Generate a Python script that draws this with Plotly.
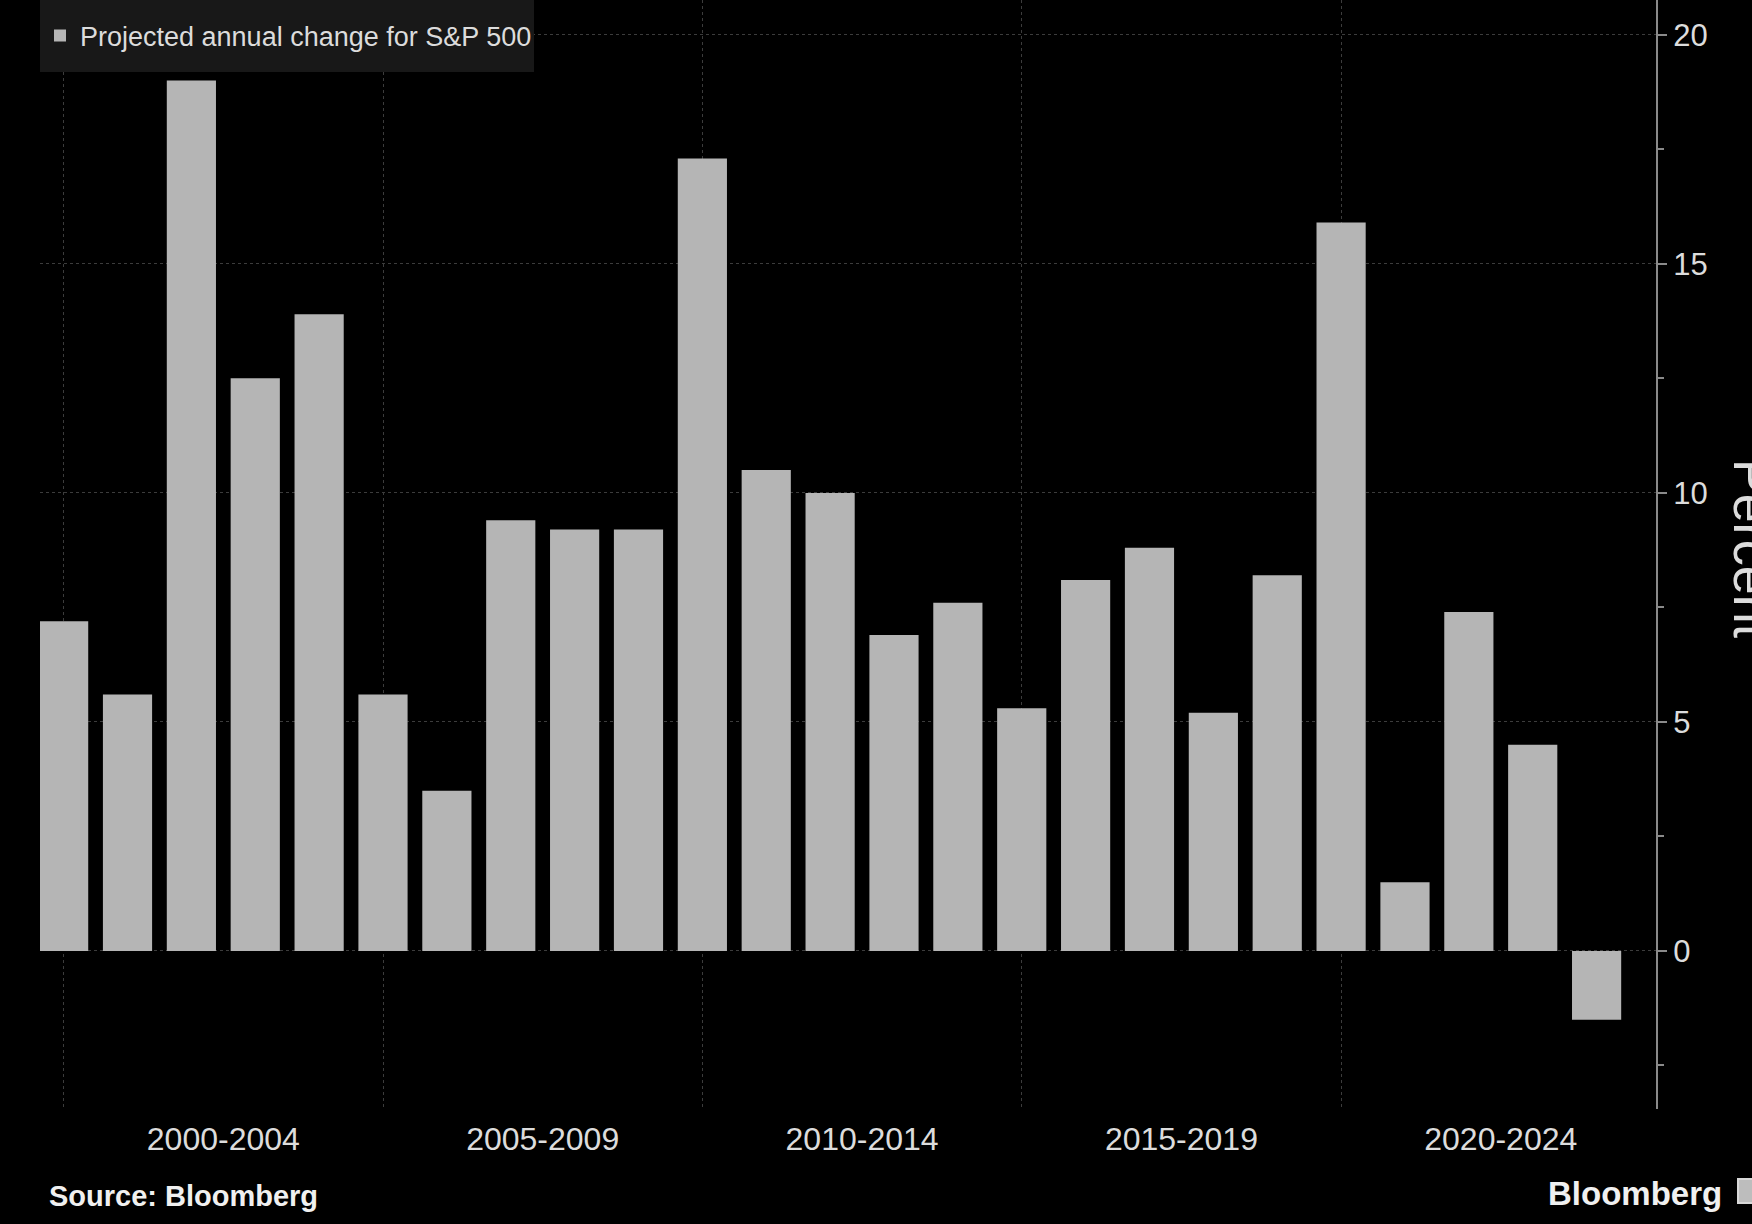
import plotly.graph_objects as go

years = list(range(2000, 2025))
values = [7.2, 5.6, 19.0, 12.5, 13.9, 5.6, 3.5, 9.4, 9.2, 9.2, 17.3, 10.5, 10.0,
          6.9, 7.6, 5.3, 8.1, 8.8, 5.2, 8.2, 15.9, 1.5, 7.4, 4.5, -1.5]
group_pos = [2002.5, 2007.5, 2012.5, 2017.5, 2022.5]
group_labels = ["2000-2004", "2005-2009", "2010-2014", "2015-2019", "2020-2024"]
group_starts = [2000, 2005, 2010, 2015, 2020]
y_ticks = [0, 5, 10, 15, 20]

FONT = "Liberation Sans, Arial, sans-serif"
TXT = "#dcdcdc"
GRID = "#3c3c3c"
AXC = "#8a8a8a"

fig = go.Figure()
fig.add_trace(go.Bar(
    x=years, y=values, name="Projected annual change for S&P 500",
    marker=dict(color="#b5b5b5", line=dict(width=0)),
    showlegend=True,
))

fig.update_layout(
    width=1752, height=1224,
    paper_bgcolor="#000000", plot_bgcolor="rgba(0,0,0,0)",
    margin=dict(l=40, r=96, t=0, b=115),
    bargap=0.23,
    font=dict(family=FONT, color=TXT, size=28),
    showlegend=True,
    legend=dict(x=0, y=0.9675, xanchor="left", yanchor="middle",
                bgcolor="rgba(0,0,0,0)", borderwidth=0,
                font=dict(family=FONT, size=27, color=TXT),
                itemwidth=30),
    xaxis=dict(
        range=[1999.63, 2024.93],
        tickmode="array", tickvals=group_pos, ticktext=group_labels,
        showgrid=False, zeroline=False, showline=False, ticks="",
        ticklabelstandoff=8,
        tickfont=dict(family=FONT, size=32, color=TXT),
        minor=dict(tickmode="array", tickvals=group_starts, showgrid=True,
                   gridcolor=GRID, griddash="dot", gridwidth=1, ticks=""),
    ),
    yaxis=dict(
        side="right", range=[-3.45, 20.76],
        tickmode="array", tickvals=y_ticks,
        showgrid=True, gridcolor=GRID, griddash="dot", gridwidth=1,
        zeroline=False, showline=True, linecolor=AXC, linewidth=2,
        ticks="outside", ticklen=9, tickcolor=AXC, tickwidth=2,
        tickfont=dict(family=FONT, size=31, color=TXT),
        minor=dict(dtick=2.5, tick0=0, ticks="outside", ticklen=6,
                   tickcolor=AXC, tickwidth=2, showgrid=False),
    ),
)

# legend background panel (covers the gridlines like in the reference)
fig.add_shape(type="rect", xref="paper", yref="paper", layer="above",
              xsizemode="pixel", ysizemode="pixel", xanchor=0, yanchor=1,
              x0=0, x1=494, y0=0, y1=-72,
              line=dict(width=0), fillcolor="#181818")

fig.add_annotation(text="Percent", textangle=90, xref="paper", yref="paper",
                   x=1.0, y=0.505, xshift=96, xanchor="center", yanchor="middle",
                   showarrow=False, font=dict(family=FONT, size=52, color=TXT))
fig.add_annotation(text="<b>Source: Bloomberg</b>", xref="paper", yref="paper",
                   x=0, y=0, xshift=7, yshift=-87, xanchor="left", yanchor="middle",
                   showarrow=False, font=dict(family=FONT, size=29, color="#f0f0f0"))
fig.add_annotation(text="<b>Bloomberg</b>", xref="paper", yref="paper",
                   x=1, y=0, xshift=68, yshift=-84, xanchor="right", yanchor="middle",
                   showarrow=False, font=dict(family=FONT, size=33, color="#f0f0f0"))
# small logo mark at bottom-right corner (partly cut off, as in the reference)
fig.add_shape(type="rect", xref="paper", yref="paper",
              xsizemode="pixel", ysizemode="pixel", xanchor=1, yanchor=0,
              x0=82, x1=100, y0=-70, y1=-94,
              line=dict(color="#d8d8d8", width=2), fillcolor="#bdbdbd")

fig.write_html("out.html", config={"displayModeBar": False},
               post_script="document.body.style.margin='0';document.body.style.background='#000';")
